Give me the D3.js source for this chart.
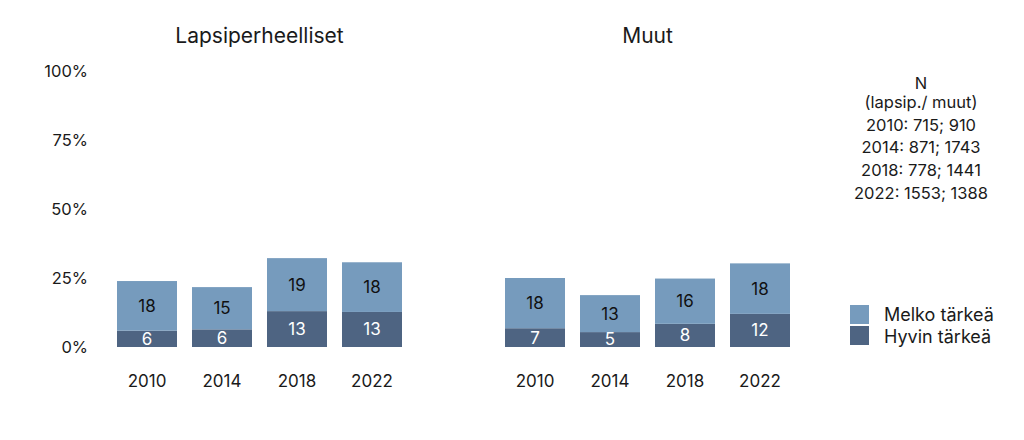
<!DOCTYPE html>
<html><head><meta charset="utf-8">
<script src="https://cdn.jsdelivr.net/npm/d3@7"></script>
<style>body{margin:0;background:#fff}svg{font-family:Inter,"Noto Sans",sans-serif}</style>
</head><body><svg id="c" width="1024" height="440"></svg>
<script>
const years = ["2010","2014","2018","2022"];
const panels = ["Lapsiperheelliset","Muut"];
const hyvinLapsi = [5.9, 6.4, 13.0, 12.7];
const melkoLapsi = [18.0, 15.3, 19.2, 18.0];
const hyvinMuut = [6.8, 5.4, 8.4, 12.0];
const melkoMuut = [18.2, 13.4, 16.4, 18.3];
const yTicks = [0, 25, 50, 75, 100];
const seriesNames = ["Melko tärkeä","Hyvin tärkeä"];
const nNote = ["N","(lapsip./ muut)","2010: 715; 910","2014: 871; 1743","2018: 778; 1441","2022: 1553; 1388"];

const colLight = "#769bbd", colDark = "#4e6482";
const svg = d3.select("#c");
const y = d3.scaleLinear().domain([0,100]).range([347,71]);

// y axis labels
svg.append("g").selectAll("text").data(yTicks).join("text")
  .attr("x", 88).attr("y", d=>y(d)).attr("dy","0.35em")
  .attr("text-anchor","end").attr("font-size",16.5).attr("fill","#1a1a1a")
  .text(d=>d+"%");

const panelData = [
  {name:panels[0], hyvin:hyvinLapsi, melko:melkoLapsi, x0:109.5},
  {name:panels[1], hyvin:hyvinMuut, melko:melkoMuut, x0:497.5}
];

panelData.forEach(p=>{
  const x = d3.scaleBand().domain(years).range([p.x0, p.x0+300]).paddingInner(0.2).paddingOuter(0.1);
  const g = svg.append("g");
  g.append("text").attr("x", p.x0+150).attr("y", 43).attr("text-anchor","middle")
    .attr("font-size",21).attr("fill","#1a1a1a").text(p.name);
  const rows = years.map((yr,i)=>({yr, h:p.hyvin[i], m:p.melko[i]}));
  g.selectAll("rect.h").data(rows).join("rect").attr("class","h")
    .attr("x",d=>x(d.yr)).attr("width",x.bandwidth())
    .attr("y",d=>y(d.h)).attr("height",d=>y(0)-y(d.h)).attr("fill",colDark);
  g.selectAll("rect.m").data(rows).join("rect").attr("class","m")
    .attr("x",d=>x(d.yr)).attr("width",x.bandwidth())
    .attr("y",d=>y(d.h+d.m)).attr("height",d=>y(d.h)-y(d.h+d.m)).attr("fill",colLight);
  g.selectAll("text.h").data(rows).join("text").attr("class","h")
    .attr("x",d=>x(d.yr)+x.bandwidth()/2).attr("y",d=>y(d.h/2)).attr("dy","0.35em")
    .attr("text-anchor","middle").attr("font-size",17).attr("fill","#fff")
    .text(d=>Math.round(d.h));
  g.selectAll("text.m").data(rows).join("text").attr("class","m")
    .attr("x",d=>x(d.yr)+x.bandwidth()/2).attr("y",d=>y(d.h+d.m/2)).attr("dy","0.35em")
    .attr("text-anchor","middle").attr("font-size",17).attr("fill","#111")
    .text(d=>Math.round(d.m));
  g.selectAll("text.yr").data(years).join("text").attr("class","yr")
    .attr("x",d=>x(d)+x.bandwidth()/2).attr("y",381).attr("dy","0.35em")
    .attr("text-anchor","middle").attr("font-size",17).attr("fill","#1a1a1a").text(d=>d);
});

// N note
svg.append("g").selectAll("text").data(nNote).join("text")
  .attr("x",921).attr("y",(d,i)=> i===0 ? 83 : 102 + (i-1)*22.8).attr("dy","0.35em")
  .attr("text-anchor","middle").attr("font-size",16.5).attr("fill","#1a1a1a").text(d=>d);

// legend
const leg = svg.append("g");
const legCols = [colLight, colDark];
leg.selectAll("rect").data(seriesNames).join("rect")
  .attr("x",850).attr("y",(d,i)=>305+i*21).attr("width",19).attr("height",19)
  .attr("fill",(d,i)=>legCols[i]);
leg.selectAll("text").data(seriesNames).join("text")
  .attr("x",884).attr("y",(d,i)=>315+i*22).attr("dy","0.35em")
  .attr("font-size",18).attr("fill","#1a1a1a").text(d=>d);
</script></body></html>
